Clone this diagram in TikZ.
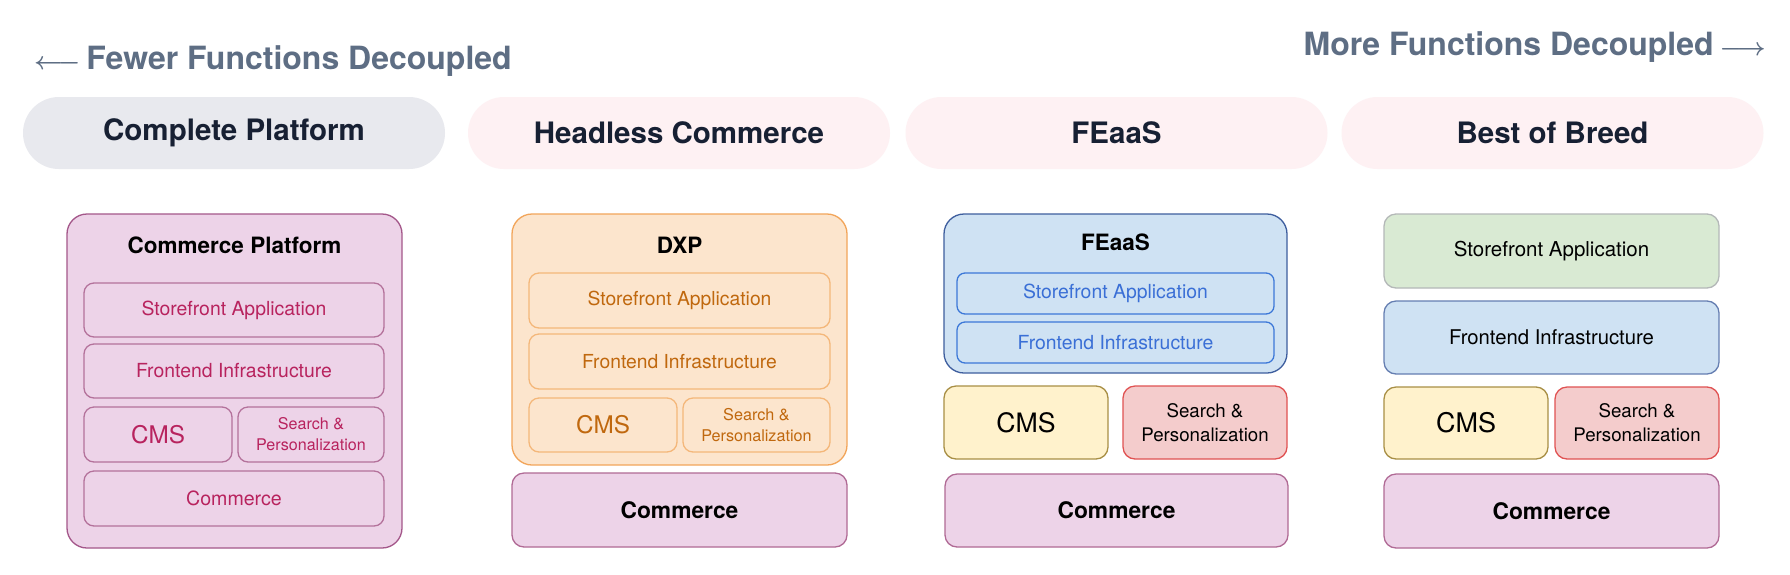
\documentclass[tikz,border=0pt]{standalone}
\usepackage{fontspec}
\setmainfont{TeX Gyre Heros}
\definecolor{hdrgrey}{HTML}{5E6E84}
\definecolor{navy}{HTML}{172033}
\definecolor{pillgrey}{HTML}{E8E9EE}
\definecolor{pillpink}{HTML}{FEF1F3}
\definecolor{pinkfill}{HTML}{EDD3E8}
\definecolor{pinkdraw}{HTML}{A4578A}
\definecolor{pinkin}{HTML}{B4729B}
\definecolor{pinktext}{HTML}{B8235E}
\definecolor{orfill}{HTML}{FCE5CD}
\definecolor{ordraw}{HTML}{F2A55A}
\definecolor{orin}{HTML}{F4B77A}
\definecolor{ortext}{HTML}{C0680E}
\definecolor{blfill}{HTML}{CFE2F3}
\definecolor{bldraw}{HTML}{3E5E9E}
\definecolor{blin}{HTML}{3C78D8}
\definecolor{bltext}{HTML}{3A6FD6}
\definecolor{redfill}{HTML}{F4CCCC}
\definecolor{reddraw}{HTML}{E05252}
\definecolor{yefill}{HTML}{FFF2CC}
\definecolor{yedraw}{HTML}{A88F45}
\definecolor{grfill}{HTML}{D9EAD3}
\definecolor{grdraw}{HTML}{B4B8B8}
\definecolor{comdraw}{HTML}{B06A95}
\tikzset{
  hdr/.style={inner sep=0pt, text=hdrgrey, font=\fontsize{32}{38}\selectfont\bfseries},
  pill/.style={rounded corners=36pt, minimum width=422pt, minimum height=72pt, inner sep=0pt,
    text=navy, font=\fontsize{29.5}{35}\selectfont\bfseries},
  cbox/.style={draw, line width=1.3pt, inner sep=0pt, align=center},
  ttl/.style={inner sep=0pt, text=black, font=\fontsize{22.5}{27}\selectfont\bfseries},
  boldcom/.style={cbox, fill=pinkfill, draw=comdraw, rounded corners=12pt,
    font=\fontsize{22.8}{27}\selectfont\bfseries, text=black}
}
\begin{document}
\begin{tikzpicture}[x=1pt,y=-1pt]
\useasboundingbox (0,0) rectangle (1790,574);
\fill[white] (0,0) rectangle (1790,574);

% headers
\node[hdr, anchor=base west] (fewer) at (34,69) {{\boldmath$\longleftarrow$}\hspace{6pt}Fewer Functions Decoupled};
\node[hdr, anchor=base east] (more) at (1766,55) {More Functions Decoupled\hspace{6pt}{\boldmath$\longrightarrow$}};

% pills
\node[pill, fill=pillgrey] (p1) at (234,133) {Complete Platform};
\node[pill, fill=pillpink] (p2) at (679,133) {Headless Commerce};
\node[pill, fill=pillpink] (p3) at (1116.5,133) {FEaaS};
\node[pill, fill=pillpink] (p4) at (1552.5,133) {Best of Breed};

% column 1: Complete Platform
\node[cbox, fill=pinkfill, draw=pinkdraw, rounded corners=20pt, minimum width=335pt, minimum height=334pt] (cp) at (234.5,381) {};
\node[ttl] (cpt) at (234.5,245.5) {Commerce Platform};
\begin{scope}[every node/.append style={cbox, draw=pinkin, rounded corners=10pt, text=pinktext}]
\node[minimum width=300pt, minimum height=54pt, font=\fontsize{19.4}{23}\selectfont] (cpsf) at (234,310) {Storefront Application};
\node[minimum width=300pt, minimum height=54pt, font=\fontsize{19.4}{23}\selectfont] (cpfi) at (234,371) {Frontend Infrastructure};
\node[minimum width=148pt, minimum height=55pt, font=\fontsize{24.3}{29}\selectfont] (cpcms) at (158,434.5) {CMS};
\node[minimum width=146pt, minimum height=55pt, font=\fontsize{16.1}{21}\selectfont] (cpsp) at (311,434.5) {Search \&\\Personalization};
\node[minimum width=300pt, minimum height=55pt, font=\fontsize{19.6}{23}\selectfont] (cpcom) at (234,498.5) {Commerce};
\end{scope}

% column 2: Headless Commerce
\node[cbox, fill=orfill, draw=ordraw, rounded corners=20pt, minimum width=335pt, minimum height=251pt] (dxp) at (679.5,339.5) {};
\node[ttl] (dxpt) at (679.5,245) {DXP};
\begin{scope}[every node/.append style={cbox, draw=orin, rounded corners=10pt, text=ortext}]
\node[minimum width=301pt, minimum height=55pt, font=\fontsize{19.3}{23}\selectfont] (dxpsf) at (679.5,300.5) {Storefront Application};
\node[minimum width=301pt, minimum height=55pt, font=\fontsize{19.3}{23}\selectfont] (dxpfi) at (679.5,361.5) {Frontend Infrastructure};
\node[minimum width=148pt, minimum height=54pt, font=\fontsize{24.3}{29}\selectfont] (dxpcms) at (603,425) {CMS};
\node[minimum width=147pt, minimum height=54pt, font=\fontsize{16.2}{21}\selectfont] (dxpsp) at (756.5,425) {Search \&\\Personalization};
\end{scope}
\node[boldcom, minimum width=335pt, minimum height=74pt] (hccom) at (679.5,510) {Commerce};

% column 3: FEaaS
\node[cbox, fill=blfill, draw=bldraw, rounded corners=20pt, minimum width=343pt, minimum height=159pt] (fe) at (1115.5,293.5) {};
\node[ttl] (fet) at (1115.5,242) {FEaaS};
\begin{scope}[every node/.append style={cbox, draw=blin, rounded corners=8pt, text=bltext}]
\node[minimum width=317pt, minimum height=41pt, font=\fontsize{19.4}{23}\selectfont] (fesf) at (1115.5,293.5) {Storefront Application};
\node[minimum width=317pt, minimum height=41pt, font=\fontsize{19.4}{23}\selectfont] (fefi) at (1115.5,342.5) {Frontend Infrastructure};
\end{scope}
\node[cbox, fill=yefill, draw=yedraw, rounded corners=12pt, minimum width=164pt, minimum height=73pt, font=\fontsize{26.7}{32}\selectfont] (fecms) at (1026,422.5) {CMS};
\node[cbox, fill=redfill, draw=reddraw, rounded corners=12pt, minimum width=164pt, minimum height=73pt, font=\fontsize{18.7}{24}\selectfont] (fesp) at (1205,422.5) {Search \&\\Personalization};
\node[boldcom, minimum width=343pt, minimum height=73pt] (fecom) at (1116.5,510.5) {Commerce};

% column 4: Best of Breed
\node[cbox, fill=grfill, draw=grdraw, rounded corners=12pt, minimum width=335pt, minimum height=74pt, font=\fontsize{20.5}{25}\selectfont] (bsf) at (1551.5,251) {Storefront Application};
\node[cbox, fill=blfill, draw=bldraw!80, rounded corners=12pt, minimum width=335pt, minimum height=73pt, font=\fontsize{20.3}{25}\selectfont] (bfi) at (1551.5,337.5) {Frontend Infrastructure};
\node[cbox, fill=yefill, draw=yedraw, rounded corners=12pt, minimum width=164pt, minimum height=72pt, font=\fontsize{27}{32}\selectfont] (bcms) at (1466,423) {CMS};
\node[cbox, fill=redfill, draw=reddraw, rounded corners=12pt, minimum width=164pt, minimum height=72pt, font=\fontsize{18.7}{24}\selectfont] (bsp) at (1637,423) {Search \&\\Personalization};
\node[boldcom, minimum width=335pt, minimum height=74pt] (bcom) at (1551.5,511) {Commerce};
\end{tikzpicture}
\end{document}
